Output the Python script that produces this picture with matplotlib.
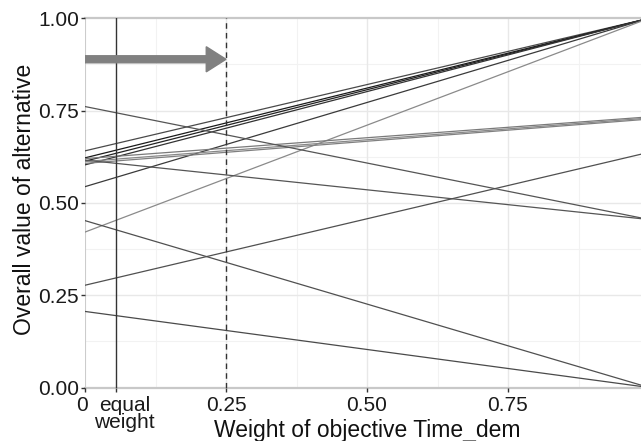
import matplotlib
matplotlib.use('Agg')
import matplotlib.pyplot as plt
from matplotlib.transforms import ScaledTranslation

plt.rcParams['font.family'] = ['Liberation Sans', 'DejaVu Sans']

# weights of objective Time_dem (line end points)
weights = [0.0, 1.0]

# overall value of each alternative at weight 0 and weight 1
value_at_0 = [0.641, 0.622, 0.613, 0.603, 0.544, 0.421,
              0.620, 0.612, 0.607,
              0.616, 0.761, 0.277, 0.452, 0.206]
value_at_1 = [1.0, 1.0, 1.0, 1.0, 1.0, 1.0,
              0.733, 0.730, 0.727,
              0.455, 0.455, 0.637, 0.0, 0.0]
line_colors = ['#4a4a4a', '#1a1a1a', '#222222', '#333333', '#3a3a3a', '#8a8a8a',
               '#7a7a7a', '#888888', '#808080',
               '#555555', '#555555', '#505050', '#505050', '#4a4a4a']

equal_weight = 1 / 18
current_weight = 0.25
arrow_y = 0.889

x_ticks = [0, equal_weight, 0.25, 0.5, 0.75]
x_tick_labels = ['0', 'equal\nweight', '0.25', '0.50', '0.75']
y_ticks = [0, 0.25, 0.5, 0.75, 1.0]
y_tick_labels = ['0.00', '0.25', '0.50', '0.75', '1.00']

fig = plt.figure(figsize=(6.41, 4.41), dpi=100)
ax = fig.add_axes([85 / 641, 1 - 387.5 / 441, 564 / 641, 369.2 / 441])

# light grid, ggplot-like
for v in [0.125, 0.375, 0.625, 0.875]:
    ax.axvline(v, color='#f2f2f2', lw=0.8, zorder=0)
    ax.axhline(v, color='#f2f2f2', lw=0.8, zorder=0)
for v in [0.25, 0.5, 0.75]:
    ax.axvline(v, color='#e8e8e8', lw=1.0, zorder=0)
    ax.axhline(v, color='#e8e8e8', lw=1.0, zorder=0)
ax.axhline(1.0, color='#c8c8c8', lw=1.6, zorder=1, clip_on=False)
ax.axhline(0.0, color='#c8c8c8', lw=1.6, zorder=1, clip_on=False)
ax.axvline(0.0, color='#cccccc', lw=0.8, zorder=1)

for v0, v1, c in zip(value_at_0, value_at_1, line_colors):
    ax.plot(weights, [v0, v1], color=c, lw=0.9, zorder=3)

ax.axvline(equal_weight, color='#333333', lw=1.0, zorder=4)
ax.axvline(current_weight, color='#333333', lw=1.0, ls=(0, (4, 3)), zorder=4)

ax.arrow(0, arrow_y, current_weight, 0, width=0.019, head_width=0.068,
         head_length=0.035, length_includes_head=True,
         color='#808080', zorder=5)

ax.set_xlim(0, 1)
ax.set_ylim(0, 1)
for s in ax.spines.values():
    s.set_visible(False)

ax.set_xticks(x_ticks)
ax.set_xticklabels(x_tick_labels)
ax.set_yticks(y_ticks)
ax.set_yticklabels(y_tick_labels)
ax.tick_params(axis='both', labelsize=15, colors='#333333', length=3,
               width=1, labelcolor='#1a1a1a')
ax.tick_params(axis='x', pad=3)
ax.tick_params(axis='y', pad=1.5)
xlabels = ax.get_xticklabels()
xlabels[0].set_transform(xlabels[0].get_transform() +
                         ScaledTranslation(-2 / 72, 0, fig.dpi_scale_trans))
xlabels[1].set_linespacing(0.85)
xlabels[1].set_transform(xlabels[1].get_transform() +
                         ScaledTranslation(6 / 72, 0, fig.dpi_scale_trans))

ax.set_xlabel('Weight of objective Time_dem', fontsize=16.5, color='#111111', va='top')
ax.xaxis.set_label_coords(0.5, -0.086)
ax.set_ylabel('Overall value of alternative', fontsize=16.5, color='#111111', va='center')
ax.yaxis.set_label_coords(-0.108, 0.51)

fig.savefig('out.png', dpi=100)
